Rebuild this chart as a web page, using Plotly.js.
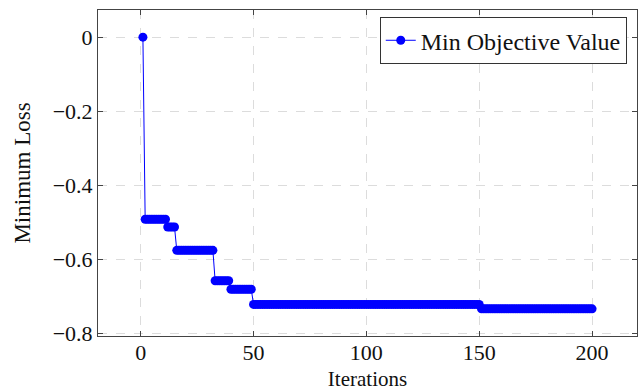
<!DOCTYPE html>
<html>
<head>
<meta charset="utf-8">
<script src="https://cdn.plot.ly/plotly-3.0.1.min.js"></script>
<style>html,body{margin:0;padding:0;background:#fff;}#chart{width:639px;height:391px;}</style>
</head>
<body>
<div id="chart"></div>
<script>
const seriesName = "Min Objective Value";
const xTitle = "Iterations";
const yTitle = "Minimum Loss";
const xTickVals = [0, 50, 100, 150, 200];
const yTickVals = [0, -0.2, -0.4, -0.6, -0.8];

const iterations = [
  1,2,3,4,5,6,7,8,9,10,11,12,13,14,15,16,17,18,19,20,
  21,22,23,24,25,26,27,28,29,30,31,32,33,34,35,36,37,38,39,40,
  41,42,43,44,45,46,47,48,49,50,51,52,53,54,55,56,57,58,59,60,
  61,62,63,64,65,66,67,68,69,70,71,72,73,74,75,76,77,78,79,80,
  81,82,83,84,85,86,87,88,89,90,91,92,93,94,95,96,97,98,99,100,
  101,102,103,104,105,106,107,108,109,110,111,112,113,114,115,116,117,118,119,120,
  121,122,123,124,125,126,127,128,129,130,131,132,133,134,135,136,137,138,139,140,
  141,142,143,144,145,146,147,148,149,150,151,152,153,154,155,156,157,158,159,160,
  161,162,163,164,165,166,167,168,169,170,171,172,173,174,175,176,177,178,179,180,
  181,182,183,184,185,186,187,188,189,190,191,192,193,194,195,196,197,198,199,200
];
const minLoss = [
  0,
  -0.492,-0.492,-0.492,-0.492,-0.492,-0.492,-0.492,-0.492,-0.492,-0.492,
  -0.513,-0.513,-0.513,-0.513,
  -0.576,-0.576,-0.576,-0.576,-0.576,-0.576,-0.576,-0.576,-0.576,-0.576,
  -0.576,-0.576,-0.576,-0.576,-0.576,-0.576,-0.576,
  -0.658,-0.658,-0.658,-0.658,-0.658,-0.658,-0.658,
  -0.681,-0.681,-0.681,-0.681,-0.681,-0.681,-0.681,-0.681,-0.681,-0.681,
  -0.722,-0.722,-0.722,-0.722,-0.722,-0.722,-0.722,-0.722,-0.722,-0.722,
  -0.722,-0.722,-0.722,-0.722,-0.722,-0.722,-0.722,-0.722,-0.722,-0.722,
  -0.722,-0.722,-0.722,-0.722,-0.722,-0.722,-0.722,-0.722,-0.722,-0.722,
  -0.722,-0.722,-0.722,-0.722,-0.722,-0.722,-0.722,-0.722,-0.722,-0.722,
  -0.722,-0.722,-0.722,-0.722,-0.722,-0.722,-0.722,-0.722,-0.722,-0.722,
  -0.722,-0.722,-0.722,-0.722,-0.722,-0.722,-0.722,-0.722,-0.722,-0.722,
  -0.722,-0.722,-0.722,-0.722,-0.722,-0.722,-0.722,-0.722,-0.722,-0.722,
  -0.722,-0.722,-0.722,-0.722,-0.722,-0.722,-0.722,-0.722,-0.722,-0.722,
  -0.722,-0.722,-0.722,-0.722,-0.722,-0.722,-0.722,-0.722,-0.722,-0.722,
  -0.722,-0.722,-0.722,-0.722,-0.722,-0.722,-0.722,-0.722,-0.722,-0.722,
  -0.722,
  -0.734,-0.734,-0.734,-0.734,-0.734,-0.734,-0.734,-0.734,-0.734,-0.734,
  -0.734,-0.734,-0.734,-0.734,-0.734,-0.734,-0.734,-0.734,-0.734,-0.734,
  -0.734,-0.734,-0.734,-0.734,-0.734,-0.734,-0.734,-0.734,-0.734,-0.734,
  -0.734,-0.734,-0.734,-0.734,-0.734,-0.734,-0.734,-0.734,-0.734,-0.734,
  -0.734,-0.734,-0.734,-0.734,-0.734,-0.734,-0.734,-0.734,-0.734,-0.734
];

const font = "Liberation Serif, Times New Roman, serif";
const trace = {
  x: iterations, y: minLoss, type: "scatter", mode: "lines+markers",
  name: seriesName,
  line: {color: "#0000ff", width: 1},
  marker: {color: "#0000ff", size: 9}
};
const axisCommon = {
  showline: true, mirror: "ticks", linecolor: "#444", linewidth: 1,
  ticks: "inside", ticklen: 5, tickcolor: "#444",
  showgrid: true, gridcolor: "#dcdcdc", griddash: "dash", gridwidth: 1,
  zeroline: false,
  tickfont: {family: font, size: 22, color: "#111"}
};
const layout = {
  width: 639, height: 391,
  margin: {l: 98, r: 2, t: 10, b: 55},
  paper_bgcolor: "#fff", plot_bgcolor: "#fff",
  showlegend: true,
  legend: {
    x: 0.981, y: 0.978, xanchor: "right", yanchor: "top",
    bordercolor: "#333", borderwidth: 1, bgcolor: "#fff",
    font: {family: font, size: 24, color: "#111"},
    itemwidth: 30
  },
  xaxis: Object.assign({}, axisCommon, {
    range: [-18.9, 219.9], tickvals: xTickVals, ticklabelstandoff: -3,
    title: {text: xTitle, font: {family: font, size: 21, color: "#111"}, standoff: 8}
  }),
  yaxis: Object.assign({}, axisCommon, {
    range: [-0.8074, 0.0734], tickvals: yTickVals,
    title: {text: yTitle, font: {family: font, size: 23, color: "#111"}, standoff: 15}
  })
};
Plotly.newPlot("chart", [trace], layout, {staticPlot: true, displayModeBar: false});
</script>
</body>
</html>
